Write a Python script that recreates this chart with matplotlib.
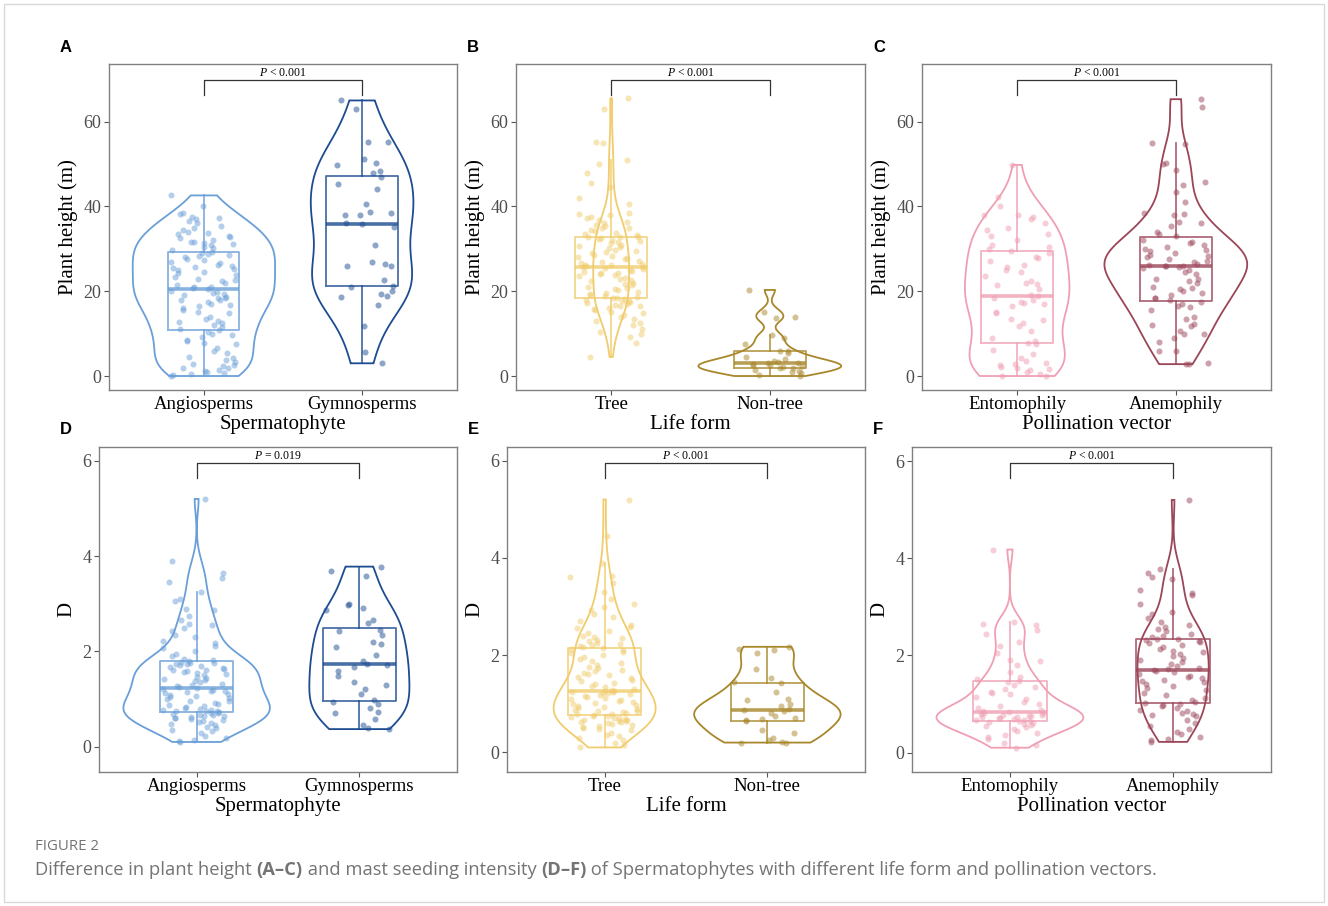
import numpy as np
import matplotlib
matplotlib.use('Agg')
import matplotlib.pyplot as plt
from matplotlib.patches import Rectangle

plt.rcParams['font.family'] = 'Liberation Serif'
plt.rcParams['mathtext.fontset'] = 'custom'
plt.rcParams['mathtext.it'] = 'Liberation Serif:italic'
plt.rcParams['mathtext.rm'] = 'Liberation Serif'

W, H = 1328, 906

'''data: plant height (m)'''
angio_h = [0.0, 0.2, 0.4, 0.8, 1.0, 1.2, 1.5, 1.8, 2.0, 2.3, 2.6, 2.9, 3.2, 3.8, 4.2, 4.6,
           5.5, 6.0, 6.6, 7.5, 7.8, 8.2, 8.6, 9.2, 9.6, 10.0, 10.3,
           10.8, 11.2, 11.6, 12.0, 12.4, 12.8, 13.0, 13.5, 14.0, 14.8, 15.2, 15.6, 16.0, 16.4,
           16.7, 17.0, 17.5, 17.9, 18.0, 18.3, 18.5, 18.7, 19.0, 19.3, 19.5, 19.9, 20.1,
           20.5, 20.7, 21.0, 21.1, 21.5, 21.9, 22.3, 22.6, 23.0, 23.4, 23.8, 24.2, 24.6, 25.0,
           25.2, 25.4, 25.8, 26.0, 26.2, 26.6, 27.0, 27.4, 27.7, 28.1, 28.3, 28.5, 28.7, 28.9,
           29.3, 29.7, 30.1, 30.5, 30.9, 31.1, 31.3, 31.5, 31.7, 32.1, 32.5, 32.9, 33.0, 33.4,
           33.7, 34.0, 34.4, 35.0, 35.3, 36.2, 36.6, 37.0, 37.2, 37.6, 38.1, 38.5, 40.0, 42.6]
gymno_h = [3.0, 5.6, 11.9, 16.7, 18.7, 18.9, 19.3, 20.0, 21.1, 21.3, 22.7, 25.9, 26.0, 26.4,
           27.0, 30.9, 35.2, 35.8, 36.0, 37.9, 37.9, 38.5, 38.8, 40.6, 44.2, 45.4, 47.0, 48.0,
           48.4, 49.8, 50.2, 51.1, 55.1, 55.3, 63.0, 65.0]
tree_h = [4.5, 7.7, 9.2, 9.9, 10.3, 11.2, 12.0, 12.6, 13.0, 13.5, 14.0, 14.4, 14.8, 15.2, 15.5,
          15.8, 16.1, 16.4, 16.6, 16.8, 17.0, 17.2, 17.4, 17.6, 17.8, 18.0, 18.1, 18.3, 18.4,
          18.6, 18.8, 19.0, 19.3, 19.6, 19.9, 20.2, 20.5, 20.8, 21.1, 21.4, 21.7, 22.0, 22.3,
          22.6, 22.9, 23.2, 23.5, 23.8, 24.0, 24.2, 24.4, 24.6, 24.8, 25.0, 25.2, 25.4, 25.6, 25.7,
          25.9, 26.1, 26.3, 26.5, 26.7, 27.0, 27.2, 27.5, 27.8, 28.0, 28.3, 28.6, 28.9, 29.2,
          29.5, 29.8, 30.1, 30.4, 30.7, 31.0, 31.3, 31.6, 31.9, 32.1, 32.3, 32.5, 32.7, 32.8, 32.9,
          33.2, 33.5, 33.8, 34.1, 34.4, 34.8, 35.0, 35.3, 35.6, 36.0, 36.4, 36.8, 37.2, 37.6,
          38.0, 38.2, 38.5, 40.5, 42.0, 44.5, 45.6, 48.0, 50.0, 51.0, 55.0, 55.2, 63.0, 65.5]
nontree_h = [0.0, 0.3, 0.6, 0.9, 1.2, 1.5, 1.8, 2.0, 2.1, 2.3, 2.5, 2.6, 2.8, 3.0, 3.1, 3.3,
             3.6, 4.0, 4.6, 5.4, 5.8, 6.0, 7.6, 9.0, 9.6, 13.6, 13.9, 15.2, 20.3]
ento_h = [0.0, 0.0, 0.5, 0.9, 1.3, 1.6, 1.8, 2.2, 2.5, 2.8, 3.0, 3.5, 4.2, 5.2, 6.2, 7.5, 7.8,
          8.2, 9.0, 10.5, 11.8, 12.6, 13.3, 13.5, 14.8, 15.0, 16.5, 17.0, 17.2, 17.5, 18.0, 18.5,
          18.9, 19.2, 20.5, 21.5, 21.8, 22.0, 22.5, 23.5, 24.5, 25.0, 25.8, 26.2, 27.2, 27.8,
          28.0, 29.0, 29.6, 30.0, 30.5, 31.0, 32.0, 33.0, 33.5, 34.5, 35.0, 36.0, 37.0, 37.5,
          37.9, 38.0, 40.0, 42.2, 49.8]
anemo_h = [2.8, 2.8, 3.0, 5.8, 5.9, 8.0, 9.0, 9.8, 10.0, 10.5, 11.8, 12.0, 12.3, 13.5, 14.0,
           15.5, 16.3, 16.5, 17.0, 17.5, 18.0, 18.3, 18.5, 19.0, 19.5, 20.0, 20.5, 20.7, 21.0,
           22.0, 22.5, 22.8, 23.0, 24.0, 24.5, 25.0, 25.5, 25.8, 25.9, 26.0, 26.0, 26.2, 26.5,
           27.0, 27.2, 27.5, 28.0, 28.2, 28.5, 29.0, 29.5, 29.8, 30.0, 30.5, 31.0, 31.3, 31.6,
           32.0, 33.0, 33.5, 34.0, 35.5, 36.0, 36.3, 38.0, 38.3, 38.5, 41.0, 43.5, 45.0, 45.8,
           48.5, 50.0, 50.3, 54.8, 55.0, 63.5, 65.3]

'''data: mast seeding intensity D'''
angio_d = [0.10, 0.12, 0.15, 0.18, 0.22, 0.28, 0.32, 0.36, 0.40, 0.42, 0.45, 0.48, 0.50, 0.52,
           0.54, 0.56, 0.58, 0.60, 0.61, 0.62, 0.64, 0.65, 0.66, 0.67, 0.68, 0.70, 0.71,
           0.73, 0.74, 0.75, 0.76, 0.77, 0.78, 0.80, 0.82, 0.84, 0.86, 0.88, 0.90, 0.92, 0.95,
           0.97, 1.00, 1.02, 1.05, 1.07, 1.09, 1.11, 1.13, 1.15, 1.17, 1.18, 1.19, 1.21,
           1.23, 1.25, 1.27, 1.30, 1.32, 1.35, 1.37, 1.40, 1.42, 1.45, 1.47, 1.50, 1.52, 1.54,
           1.56, 1.58, 1.60, 1.62, 1.64, 1.66, 1.68, 1.70, 1.72, 1.73, 1.74, 1.75, 1.76, 1.77,
           1.80, 1.82, 1.85, 1.90, 1.95, 2.00, 2.08, 2.12, 2.18, 2.22, 2.30, 2.35, 2.42, 2.50,
           2.55, 2.58, 2.65, 2.75, 2.88, 2.90, 3.05, 3.10, 3.25, 3.45, 3.55, 3.65, 3.90, 5.20]
gymno_d = [0.37, 0.40, 0.45, 0.58, 0.70, 0.72, 0.82, 0.90, 0.94, 0.98, 1.10, 1.22, 1.30, 1.35,
           1.48, 1.58, 1.68, 1.72, 1.74, 1.80, 1.93, 2.10, 2.15, 2.20, 2.35, 2.42, 2.46, 2.60,
           2.65, 2.88, 2.92, 2.98, 3.00, 3.58, 3.68, 3.78]
tree_d = [0.10, 0.15, 0.20, 0.26, 0.30, 0.34, 0.36, 0.40, 0.45, 0.48, 0.50, 0.52, 0.55, 0.57,
          0.59, 0.61, 0.62, 0.63, 0.64, 0.65, 0.66, 0.67, 0.68, 0.70, 0.71, 0.72, 0.74, 0.75, 0.76,
          0.78, 0.79, 0.80, 0.82, 0.84, 0.86, 0.88, 0.90, 0.92, 0.94, 0.96, 0.98, 1.00, 1.02,
          1.04, 1.06, 1.08, 1.10, 1.12, 1.14, 1.16, 1.18, 1.20, 1.21, 1.22, 1.24, 1.25, 1.26, 1.27,
          1.29, 1.31, 1.34, 1.37, 1.40, 1.43, 1.46, 1.49, 1.52, 1.55, 1.58, 1.61, 1.64, 1.67,
          1.70, 1.73, 1.76, 1.80, 1.84, 1.88, 1.92, 1.96, 2.00, 2.04, 2.07, 2.10, 2.13, 2.15, 2.16,
          2.18, 2.20, 2.22, 2.25, 2.28, 2.32, 2.36, 2.38, 2.40, 2.45, 2.50, 2.55, 2.58, 2.62,
          2.70, 2.78, 2.85, 2.92, 2.98, 3.05, 3.15, 3.30, 3.48, 3.60, 3.62, 3.90, 4.45, 5.20]
nontree_d = [0.20, 0.20, 0.22, 0.25, 0.30, 0.40, 0.45, 0.65, 0.66, 0.68, 0.70, 0.74, 0.80, 0.84,
             0.88, 0.90, 0.95, 1.00, 1.08, 1.10, 1.24, 1.43, 1.45, 1.52, 1.72, 2.05, 2.10, 2.12,
             2.17]
ento_d = [0.10, 0.15, 0.20, 0.28, 0.32, 0.36, 0.40, 0.44, 0.48, 0.52, 0.55, 0.57, 0.59, 0.61,
          0.62, 0.64, 0.66, 0.67, 0.68, 0.70, 0.71, 0.72, 0.73, 0.74, 0.75, 0.76, 0.77, 0.78,
          0.80, 0.81, 0.82, 0.84, 0.86, 0.88, 0.92, 0.95, 1.00, 1.05, 1.10, 1.15, 1.20, 1.22,
          1.25, 1.30, 1.35, 1.40, 1.45, 1.48, 1.52, 1.55, 1.65, 1.80, 1.88, 1.90, 2.05, 2.20,
          2.28, 2.45, 2.53, 2.62, 2.65, 2.68, 4.18]
anemo_d = [0.22, 0.25, 0.28, 0.32, 0.38, 0.42, 0.48, 0.55, 0.60, 0.68, 0.75, 0.78, 0.80, 0.82,
           0.85, 0.88, 0.92, 0.95, 0.97, 0.99, 1.02, 1.05, 1.08, 1.12, 1.18, 1.22, 1.28, 1.32,
           1.38, 1.42, 1.45, 1.48, 1.50, 1.53, 1.56, 1.58, 1.62, 1.65, 1.67, 1.69, 1.71, 1.74,
           1.78, 1.82, 1.86, 1.90, 1.94, 1.98, 2.02, 2.06, 2.10, 2.14, 2.18, 2.22, 2.25, 2.28,
           2.30, 2.32, 2.33, 2.34, 2.37, 2.40, 2.45, 2.50, 2.55, 2.58, 2.62, 2.68, 2.78, 2.85,
           2.90, 3.05, 3.25, 3.28, 3.35, 3.58, 3.62, 3.70, 3.78, 5.20]

sperm_labels = ['Angiosperms', 'Gymnosperms']
life_labels = ['Tree', 'Non-tree']
poll_labels = ['Entomophily', 'Anemophily']
p_texts = ['< 0.001', '< 0.001', '< 0.001', '= 0.019', '< 0.001', '< 0.001']

sperm_cols = ['#6a9fd8', '#1d4c91']
life_cols = ['#f1cc6c', '#a8872b']
poll_cols = ['#f09fb3', '#9b4558']

# letter, groups, labels, colours, xlabel, ylabel, axes box in px (l, t, r, b), ylim
panels = [
    ('A', [angio_h, gymno_h], sperm_labels, sperm_cols, 'Spermatophyte', 'Plant height (m)', (109, 64, 457, 390), (-3.3, 73.6)),
    ('B', [tree_h, nontree_h], life_labels, life_cols, 'Life form', 'Plant height (m)', (516, 64, 865, 390), (-3.3, 73.6)),
    ('C', [ento_h, anemo_h], poll_labels, poll_cols, 'Pollination vector', 'Plant height (m)', (922, 64, 1271, 390), (-3.3, 73.6)),
    ('D', [angio_d, gymno_d], sperm_labels, sperm_cols, 'Spermatophyte', 'D', (99, 447, 457, 772), (-0.53, 6.29)),
    ('E', [tree_d, nontree_d], life_labels, life_cols, 'Life form', 'D', (507, 447, 865, 772), (-0.405, 6.28)),
    ('F', [ento_d, anemo_d], poll_labels, poll_cols, 'Pollination vector', 'D', (912, 447, 1271, 772), (-0.40, 6.29)),
]


def kde(v, grid):
    v = np.asarray(v)
    n = len(v)
    sd = np.std(v, ddof=1)
    q75, q25 = np.percentile(v, [75, 25])
    bw = 0.9 * min(sd, (q75 - q25) / 1.34) * n ** -0.2
    z = (grid[:, None] - v[None, :]) / bw
    return np.exp(-0.5 * z ** 2).sum(axis=1) / (n * bw * np.sqrt(2 * np.pi))


fig = plt.figure(figsize=(W / 100, H / 100), dpi=100)
fig.patches.append(Rectangle((4 / W, 4 / H), 1 - 8 / W, 1 - 8 / H, transform=fig.transFigure,
                             fill=False, edgecolor='#d9d9d9', linewidth=1))

for k, (letter, groups, labels, cols, xlab, ylab, box, ylim) in enumerate(panels):
    l, t, r, b = box
    ax = fig.add_axes([l / W, 1 - b / H, (r - l) / W, (b - t) / H])
    grids = [np.linspace(min(g), max(g), 512) for g in groups]
    dens = [kde(g, gr) for g, gr in zip(groups, grids)]
    dmax = max(d.max() for d in dens)
    for i, (g, gr, d, c) in enumerate(zip(groups, grids, dens, cols)):
        pos = i + 1
        half = 0.45 * d / dmax
        ax.fill(np.concatenate([pos - half, (pos + half)[::-1]]), np.concatenate([gr, gr[::-1]]),
                facecolor='none', edgecolor=c, linewidth=1.3, zorder=2)
        ax.boxplot([g], positions=[pos], widths=0.45, showfliers=False, showcaps=False,
                   boxprops=dict(color=c, alpha=0.8, linewidth=1.3),
                   whiskerprops=dict(color=c, alpha=0.8, linewidth=1.3),
                   medianprops=dict(color=c, alpha=0.8, linewidth=2.6), zorder=3)
        idx = np.arange(len(g)) + 7 * k + 3 * i
        jit = ((idx * idx * 0.618034 + idx * 0.41421) % 1 - 0.5) * 0.42
        ax.scatter(pos + jit, g, s=19, color=c, alpha=0.5, linewidths=0, zorder=4)

    # significance bracket
    span = ylim[1] - ylim[0]
    yb = ylim[1] - 0.05 * span
    ax.plot([1, 1, 2, 2], [yb - 0.045 * span, yb, yb, yb - 0.045 * span], color='#333333', linewidth=0.9)
    ax.text(1.5, yb + 0.004 * span, r'$\it{P}$ ' + p_texts[k], ha='center', va='bottom', fontsize=8.5)

    ax.set_xlim(0.4, 2.6)
    ax.set_ylim(*ylim)
    ax.set_xticks([1, 2])
    ax.set_xticklabels(labels, fontsize=13.5, color='black')
    if ylab == 'D':
        ax.set_yticks([0, 2, 4, 6])
    else:
        ax.set_yticks([0, 20, 40, 60])
    ax.tick_params(axis='y', labelsize=13, labelcolor='#4d4d4d', pad=2)
    ax.tick_params(length=3.5, width=0.8, color='#555555')
    ax.tick_params(axis='x', pad=1)
    ax.set_xlabel(xlab, fontsize=15, labelpad=1)
    ax.set_ylabel(ylab, fontsize=15, labelpad=4)
    for s in ax.spines.values():
        s.set_color('#808080')
        s.set_linewidth(1.0)
    fig.text((l - 49 + (10 if ylab == 'D' else 0)) / W, 1 - (t - 17) / H, letter, fontsize=12,
             fontweight='bold', family='Liberation Sans', ha='left', va='center')

# caption
cap_col = '#747474'
fig.text(35 / W, 1 - 847 / H, 'FIGURE 2', fontsize=10.8, family='Open Sans', color=cap_col, va='center')
parts = [('Difference in plant height ', 'normal'), ('(A\u2013C)', 'bold'),
         (' and mast seeding intensity ', 'normal'), ('(D\u2013F)', 'bold'),
         (' of Spermatophytes with different life form and pollination vectors.', 'normal')]
renderer = fig.canvas.get_renderer()
x = 35
for s, w in parts:
    tx = fig.text(x / W, 1 - 870 / H, s, fontsize=13.2, family='Open Sans', fontweight=w,
                  color=cap_col, va='center')
    x += tx.get_window_extent(renderer).width

fig.savefig('out.png', dpi=100)
